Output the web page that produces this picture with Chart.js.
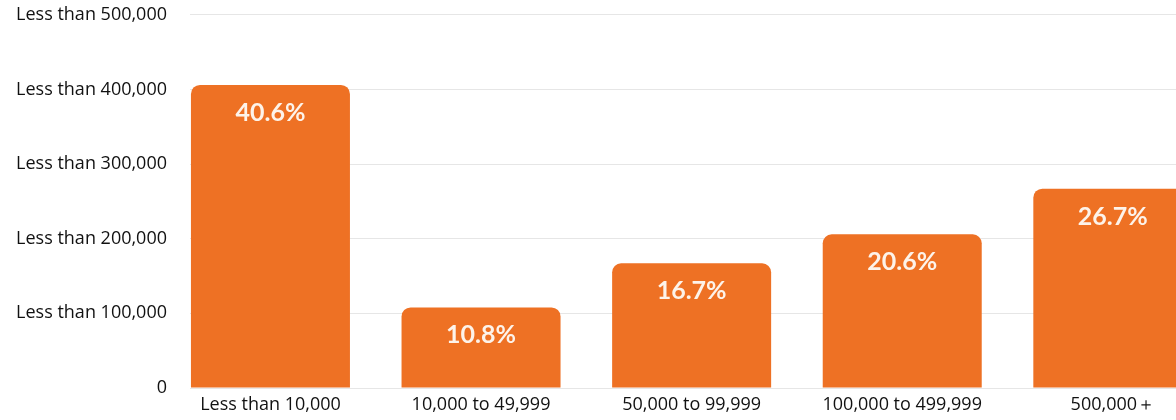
<!DOCTYPE html>
<html>
<head>
<meta charset="utf-8">
<script src="https://cdn.jsdelivr.net/npm/chart.js@4/dist/chart.umd.min.js"></script>
<style>
  html, body { margin: 0; padding: 0; background: #fff; overflow: hidden; }
  #wrap { width: 1176px; height: 420px; }
</style>
</head>
<body>
<div id="wrap"><canvas id="incomeChart" width="1176" height="420"></canvas></div>
<script>
const CATEGORIES = [
  'Less than 10,000',
  '10,000 to 49,999',
  '50,000 to 99,999',
  '100,000 to 499,999',
  '500,000\uFF0B',
]
const SHARES = [40.6, 10.8, 16.7, 20.6, 26.7]
const Y_TICKS = [0, 10, 20, 30, 40, 50]
const Y_TICK_LABELS = [
  '0',
  'Less than 100,000',
  'Less than 200,000',
  'Less than 300,000',
  'Less than 400,000',
  'Less than 500,000',
]

const BAR_COLOR = '#ee7124'

const barLabels = {
  id: 'barLabels',
  afterDatasetsDraw(chart) {
    const { ctx } = chart
    const meta = chart.getDatasetMeta(0)
    ctx.save()
    ctx.beginPath()
    ctx.rect(chart.chartArea.left, 0, chart.chartArea.right - chart.chartArea.left, chart.height)
    ctx.clip()
    ctx.fillStyle = '#fdf3ea'
    ctx.font = 'bold 25px Lato'
    ctx.textAlign = 'center'
    ctx.textBaseline = 'middle'
    meta.data.forEach((bar, i) => {
      ctx.fillText(`${SHARES[i]}%`, bar.x, bar.y + 28)
    })
    ctx.restore()
  },
}

function initializeChart() {
  const canvas = document.getElementById('incomeChart')
  if (!canvas || typeof Chart === 'undefined') {
    return null
  }

  return new Chart(canvas, {
    type: 'bar',
    data: {
      datasets: [
        {
          data: SHARES.map((value, i) => ({ x: i, y: value })),
          backgroundColor: BAR_COLOR,
          borderRadius: { topLeft: 9, topRight: 9 },
          borderSkipped: 'start',
          categoryPercentage: 1,
          barPercentage: 0.755,
        },
      ],
    },
    options: {
      responsive: false,
      animation: false,
      layout: { padding: 0 },
      plugins: {
        legend: { display: false },
        tooltip: { enabled: false },
      },
      scales: {
        x: {
          type: 'linear',
          offset: false,
          min: -0.382,
          max: 4.3,
          grid: { display: false, drawTicks: false, offset: false },
          border: { display: false },
          afterBuildTicks: (scale) => {
            scale.ticks = CATEGORIES.map((_, i) => ({ value: i }))
          },
          afterFit: (scale) => {
            scale.height = 32
          },
          ticks: {
            autoSkip: false,
            maxRotation: 0,
            padding: 6,
            color: '#111',
            font: { family: 'Open Sans', size: 18 },
            callback: (value) => CATEGORIES[value],
          },
        },
        y: {
          min: 0,
          max: 50,
          afterBuildTicks: (scale) => {
            scale.ticks = Y_TICKS.map((value) => ({ value }))
          },
          afterFit: (scale) => {
            scale.width = 190
          },
          grid: {
            color: '#e6e6e6',
            lineWidth: 1,
            drawTicks: true,
            tickLength: 19,
            tickColor: 'rgba(0,0,0,0)',
          },
          border: { display: false },
          ticks: {
            padding: 4,
            color: '#111',
            font: { family: 'Open Sans', size: 18 },
            callback: (value) => Y_TICK_LABELS[Y_TICKS.indexOf(value)],
          },
        },
      },
    },
    plugins: [barLabels],
  })
}

globalThis.addEventListener('DOMContentLoaded', () => {
  initializeChart()
})
</script>
</body>
</html>
